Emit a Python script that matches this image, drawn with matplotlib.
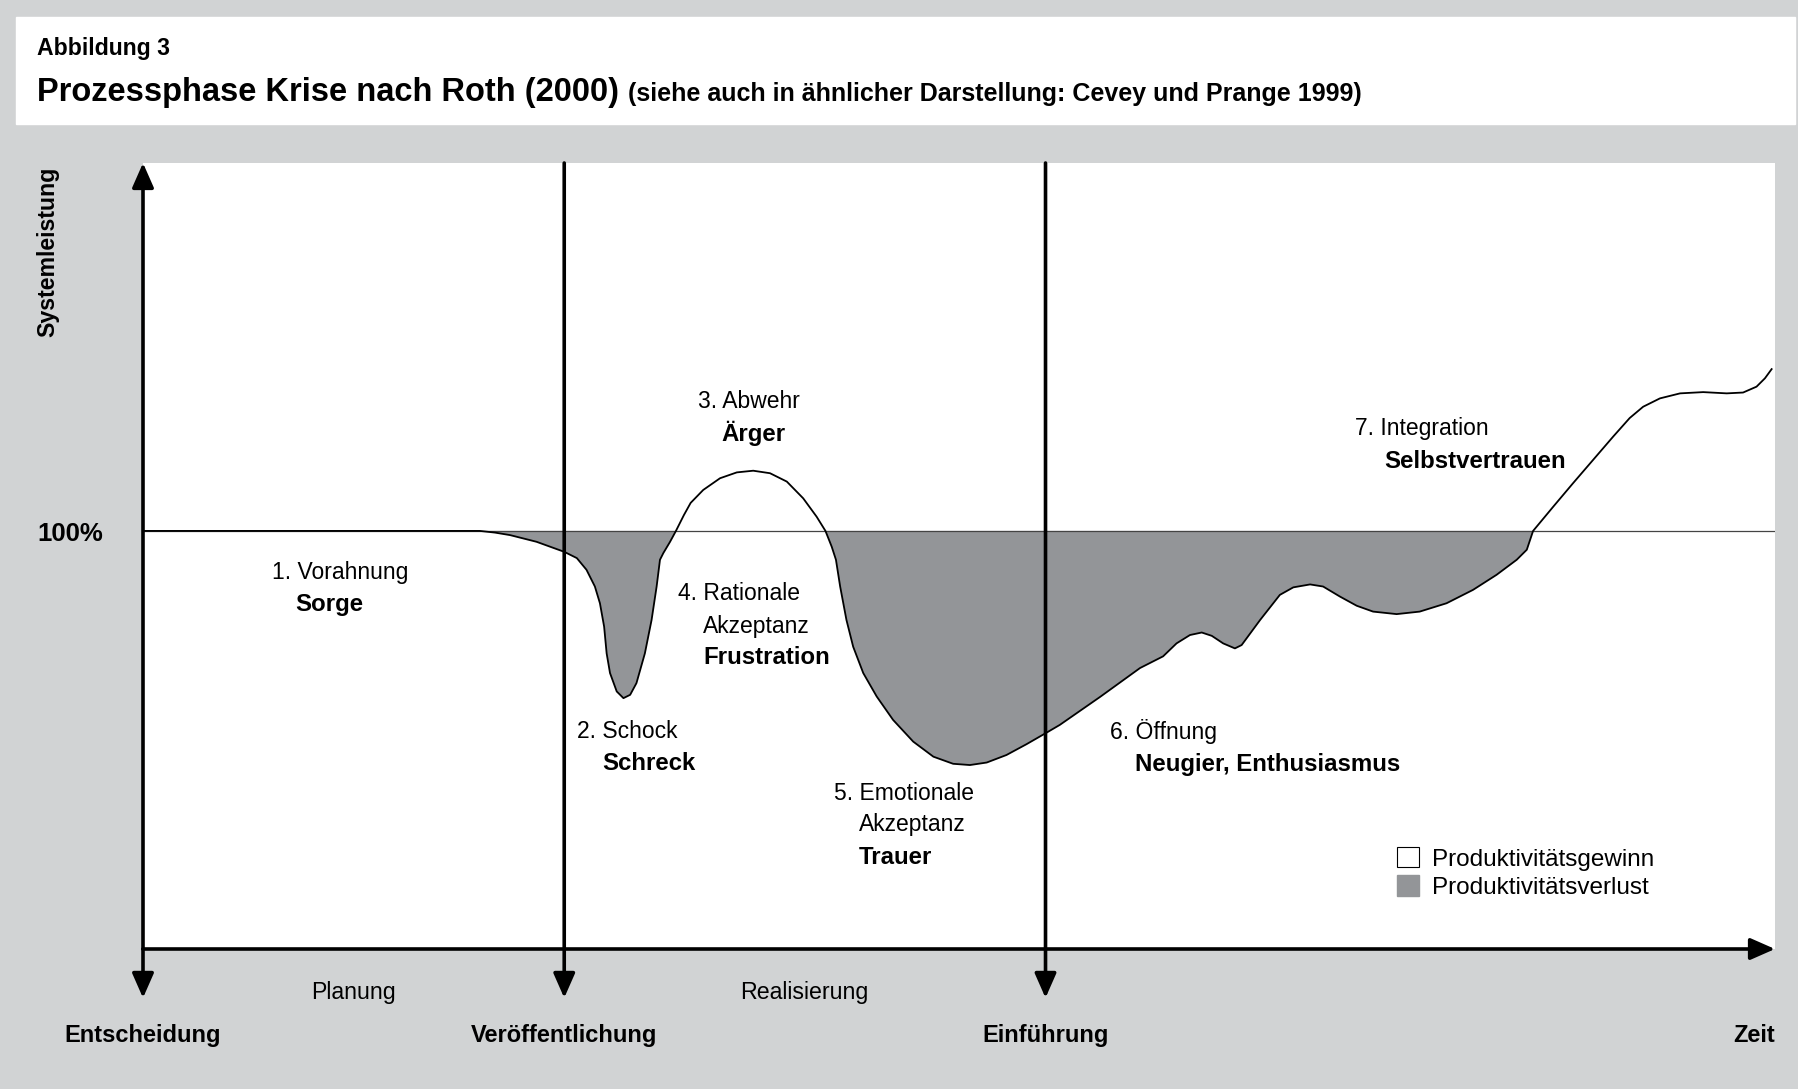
import numpy as np
import matplotlib; matplotlib.use("Agg")
import matplotlib.pyplot as plt
from matplotlib.patches import Rectangle, Patch

plt.rcParams["font.family"] = ["Liberation Sans", "DejaVu Sans"]

# Prozesskurve: Zeit (willkürliche Einheiten) vs. Systemleistung (%)
zeit = [0, 80.2, 83.8, 87.4, 93.7, 100.3, 103.3, 105.6, 107.6, 108.8, 109.8, 110.4,
        111.2, 112.8, 114.4, 116.0, 117.5, 119.5, 121.1, 122.3, 123.1, 123.9, 125.5,
        126.9, 128.8, 130.4, 133.4, 137.4, 141.4, 145.3, 149.3, 153.3, 157.2, 160.4,
        162.5, 164.0, 165.0, 166.0, 167.5, 169.1, 171.5, 174.7, 178.6, 183.4, 188.2,
        192.9, 196.9, 200.9, 205.6, 210.4, 214.9, 218.3, 227.9, 237.4, 242.9, 246.1,
        249.3, 252.1, 254.5, 257.2, 260.0, 261.6, 266.0, 270.7, 273.9, 277.9, 281.0,
        285.0, 289.0, 292.9, 298.5, 304.0, 310.4, 316.7, 322.3, 327.1, 329.5, 331.0,
        335.8, 340.5, 345.3, 350.1, 354.0, 357.2, 361.2, 366.0, 371.5, 377.1, 381.0,
        384.2, 386.2, 387.8]
leistung = [100, 100, 99.6, 99.0, 97.4, 95.0, 93.5, 90.7, 86.7, 82.7, 77.1, 70.7,
            66.0, 61.6, 60.0, 60.8, 63.6, 70.7, 78.7, 86.7, 93.1, 94.7, 97.4,
            100, 103.8, 106.7, 109.8, 112.6, 114.0, 114.4, 113.8, 111.8, 107.8, 103.4,
            100, 96.2, 93.1, 86.7, 78.7, 72.3, 66.0, 60.4, 54.8, 49.6, 46.0,
            44.3, 44.0, 44.6, 46.4, 49.0, 51.6, 53.6, 60.3, 67.2, 70.0, 73.1,
            75.1, 75.7, 74.9, 73.1, 71.9, 72.7, 78.7, 84.7, 86.5, 87.2, 86.7,
            84.3, 82.1, 80.7, 80.1, 80.7, 82.7, 85.9, 89.5, 93.1, 95.5, 100,
            105.8, 111.4, 117.0, 122.6, 127.0, 129.7, 131.7, 132.9, 133.2, 132.9, 133.1,
            134.5, 136.5, 138.7]

meilensteine = ["Entscheidung", "Veröffentlichung", "Einführung"]
t_meilenstein = [0, 100.3, 214.9]
abschnitte = ["Planung", "Realisierung"]
t_abschnitt = [50.2, 157.5]
T_END, Y_TOP, Y_LOW = 388.6, 188, -11.7

phasen = [["1. Vorahnung", "Sorge"],
          ["2. Schock", "Schreck"],
          ["3. Abwehr", "Ärger"],
          ["4. Rationale", "Akzeptanz", "Frustration"],
          ["5. Emotionale", "Akzeptanz", "Trauer"],
          ["6. Öffnung", "Neugier, Enthusiasmus"],
          ["7. Integration", "Selbstvertrauen"]]
# (x links erste Zeile, x links Folgezeilen, y erste Zeile) in Pixel
phasen_pos = [(272, 295, 573), (577, 602, 732), (698, 721, 401), (678, 703, 594),
              (834, 859, 793), (1110, 1135, 732), (1355, 1384, 429)]

W, H = 1798, 1089
BG, GRAU = "#d1d3d4", "#939598"
fx = lambda x: x / W
fy = lambda y: 1 - y / H

fig = plt.figure(figsize=(W / 100, H / 100), dpi=100, facecolor=BG)
fig.patches.append(Rectangle((fx(16), fy(124)), fx(1779), (124 - 17) / H,
                             transform=fig.transFigure, color="white", zorder=0))
fig.text(fx(37), fy(48), "Abbildung 3", fontsize=16.6, fontweight="bold", va="center")
fig.text(fx(37), fy(92), "Prozessphase Krise nach Roth (2000)", fontsize=23.5,
         fontweight="bold", va="center")
fig.text(fx(628), fy(94), "(siehe auch in ähnlicher Darstellung: Cevey und Prange 1999)",
         fontsize=18, fontweight="bold", va="center")

ax = fig.add_axes([fx(143), fy(949), (1775 - 143) / W, (949 - 163) / H])
ax.set_facecolor("white")
ax.set_xlim(0, T_END); ax.set_ylim(0, Y_TOP)
for s in ax.spines.values():
    s.set_visible(False)
ax.set_xticks([]); ax.set_yticks([])

x = np.array(zeit); y = np.array(leistung)
ax.fill_between(x, y, 100, where=y <= 100, interpolate=True, color=GRAU, lw=0, zorder=1)
ax.axhline(100, color="#444444", lw=0.9, zorder=2)
ax.plot(x, y, color="black", lw=1.3, zorder=3, solid_joinstyle="round")

arr = dict(arrowstyle="-|>,head_length=0.5,head_width=0.22", color="black", lw=2.6,
           mutation_scale=30, shrinkA=0, shrinkB=0)
kw = dict(annotation_clip=False, zorder=5)
ax.annotate("", xy=(0, Y_TOP), xytext=(0, 0), arrowprops=arr, **kw)
ax.annotate("", xy=(T_END, 0), xytext=(0, 0), arrowprops=arr, **kw)
for i, t in enumerate(t_meilenstein):
    start = 0 if i == 0 else Y_TOP
    ax.annotate("", xy=(t, Y_LOW), xytext=(t, start), arrowprops=arr, **kw)
    ax.text(t, -20.6, meilensteine[i], ha="center", va="center", fontsize=17,
            fontweight="bold", clip_on=False)
ax.text(T_END, -20.6, "Zeit", ha="right", va="center", fontsize=17,
        fontweight="bold", clip_on=False)
for t, lab in zip(t_abschnitt, abschnitte):
    ax.text(t, -10.3, lab, ha="center", va="center", fontsize=16.7, clip_on=False)

fig.text(fx(48), fy(252), "Systemleistung", rotation=90, fontsize=16.7,
         fontweight="bold", ha="center", va="center")
fig.text(fx(37), fy(534), "100%", fontsize=18.5, fontweight="bold", va="center")

for lines, (x0, x1, y0) in zip(phasen, phasen_pos):
    for j, line in enumerate(lines):
        bold = j == len(lines) - 1
        fig.text(fx(x0 if j == 0 else x1), fy(y0 + 32 * j), line,
                 fontsize=17.3 if bold else 16.5,
                 fontweight="bold" if bold else "normal", va="center")

hd = [Patch(facecolor="white", edgecolor="black", lw=0.8),
      Patch(facecolor=GRAU, edgecolor=GRAU)]
ax.legend(hd, ["Produktivitätsgewinn", "Produktivitätsverlust"], loc="upper left",
          bbox_to_anchor=(fx(1385), fy(835)), bbox_transform=fig.transFigure,
          frameon=False, fontsize=17.5, handlelength=0.9, handleheight=0.9,
          handletextpad=0.55, labelspacing=0.2, borderpad=0)

fig.savefig("out.png", dpi=100, facecolor=BG)
